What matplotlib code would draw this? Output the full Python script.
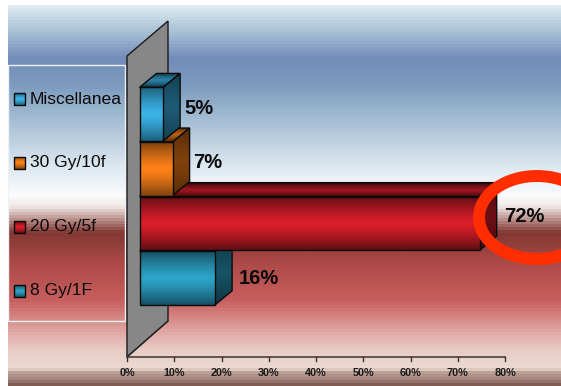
import numpy as np
import matplotlib
matplotlib.use("Agg")
import matplotlib.pyplot as plt
from matplotlib.patches import Polygon, Rectangle, Ellipse

plt.rcParams["font.family"] = ["Liberation Sans", "DejaVu Sans"]

categories = ["8 Gy/1F", "20 Gy/5f", "30 Gy/10f", "Miscellanea"]
values = [16, 72, 7, 5]
value_labels = ["16%", "72%", "7%", "5%"]
ticks = [0, 10, 20, 30, 40, 50, 60, 70, 80]

# centre / edge colour of each bar
bright = [(45, 165, 200), (220, 30, 42), (255, 130, 25), (60, 180, 232)]
dark = [(22, 80, 100), (98, 14, 20), (130, 68, 14), (28, 98, 125)]

W, H = 561, 386
X0, PX_PCT = 127, 4.725
Y0, PX_CAT = 278, 54.6
DX, DY = 17 / PX_PCT, 14 / PX_CAT
BASE = 12.5 / PX_PCT


def px(x):
    return (x - X0) / PX_PCT


def py(y):
    return (Y0 - y) / PX_CAT


def gradient(c1, c2, n=40):
    t = np.abs(np.linspace(-1, 1, n)) ** 1.3
    c1, c2 = np.array(c1) / 255, np.array(c2) / 255
    return (c1 + (c2 - c1) * t[:, None])[:, None, :]


def face(ax, pts, c1, c2):
    pts = np.array(pts)
    im = ax.imshow(gradient(c1, c2), aspect="auto", zorder=3, interpolation="bilinear",
                   extent=[pts[:, 0].min(), pts[:, 0].max(), pts[:, 1].min(), pts[:, 1].max()])
    poly = Polygon(pts, closed=True, fc="none", ec="#0a0a0a", lw=1.0, zorder=3)
    ax.add_patch(poly)
    im.set_clip_path(poly)


def shade(c, f):
    return tuple(v * f for v in c)


fig = plt.figure(figsize=(W / 100, H / 100), dpi=100, facecolor="white")
ax = fig.add_axes([0, 0, 1, 1])
ax.axis("off")

# banded slide background
stop_y = [6, 30, 58, 85, 120, 170, 195, 206, 218, 232, 260, 300, 330, 350, 368, 371, 378, 386]
stop_c = np.array([(222, 234, 243), (170, 195, 215), (115, 140, 185), (125, 155, 190),
                   (165, 190, 212), (225, 235, 242), (250, 252, 253), (240, 232, 230),
                   (190, 150, 145), (130, 55, 50), (170, 72, 70), (200, 95, 95),
                   (222, 165, 160), (232, 205, 198), (236, 218, 210), (190, 165, 155),
                   (165, 135, 125), (115, 80, 70)]) / 255
rows = np.arange(6, H, 3)
bg = np.stack([np.interp(rows, stop_y, stop_c[:, k]) for k in range(3)], axis=1)[:, None, :]
ax.imshow(bg, aspect="auto", extent=[px(8), px(W), py(H), py(6)], zorder=0,
          interpolation="nearest", origin="upper")

# legend box
ax.add_patch(Rectangle((px(8), py(321)), px(125) - px(8), py(65) - py(321), fc="none",
                       ec="#eef2f6", lw=1.0, zorder=1))

# back wall
wall = [(px(127), py(357)), (px(127), py(56)), (px(168), py(21)), (px(168), py(321))]
ax.add_patch(Polygon(wall, closed=True, fc="#878787", ec="#1a1a1a", lw=1.0, zorder=2))

# floor and axis
ax.plot([px(127), px(168)], [py(357), py(321)], color="#222222", lw=0.8, zorder=2)
ax.plot([0, 80], [py(357), py(357)], color="#4a4040", lw=1.2, zorder=2)
for t in ticks:
    ax.plot([t, t], [py(357), py(361)], color="#333333", lw=1.0, zorder=2)
    ax.text(t, py(373), f"{t}%", ha="center", va="center", fontsize=7.8, fontweight="bold",
            color="#1a1a1a", zorder=5)

# bars, drawn bottom to top so each one covers the one below
for i, v in enumerate(values):
    lo, hi = i - 0.49, i + 0.49
    a, b = BASE, BASE + v
    face(ax, [(a, hi), (a + DX, hi + DY), (b + DX, hi + DY), (b, hi)],
         shade(bright[i], 0.72), shade(dark[i], 0.55))
    face(ax, [(b, lo), (b + DX, lo + DY), (b + DX, hi + DY), (b, hi)],
         shade(bright[i], 0.5), shade(dark[i], 0.65))
    face(ax, [(a, lo), (b, lo), (b, hi), (a, hi)], bright[i], dark[i])

# value labels
label_xy = [(239, 279), (504, 217), (193, 163), (184, 108)]
for s, (x, y) in zip(value_labels, label_xy):
    ax.text(px(x), py(y), s, ha="left", va="center", fontsize=14.5, fontweight="bold",
            color="#0a0a0a", zorder=6)

# legend entries
legend_y = [291, 227, 163, 99]
for i, name in enumerate(categories):
    y = legend_y[i]
    pts = [(px(14), py(y + 6)), (px(25), py(y + 6)), (px(25), py(y - 6)), (px(14), py(y - 6))]
    face(ax, pts, bright[i], dark[i])
    ax.text(px(30), py(y), name, ha="left", va="center", fontsize=12.6, color="#0a0a0a", zorder=6)

# red ring around the 72% bar
ax.add_patch(Ellipse((px(537), py(217.5)), 116 / PX_PCT, 83 / PX_CAT, fc="none",
                     ec="#ff2d00", lw=8.6, zorder=5))

ax.set_xlim(px(0), px(W))
ax.set_ylim(py(H), py(0))
fig.savefig("out.png", dpi=100)
